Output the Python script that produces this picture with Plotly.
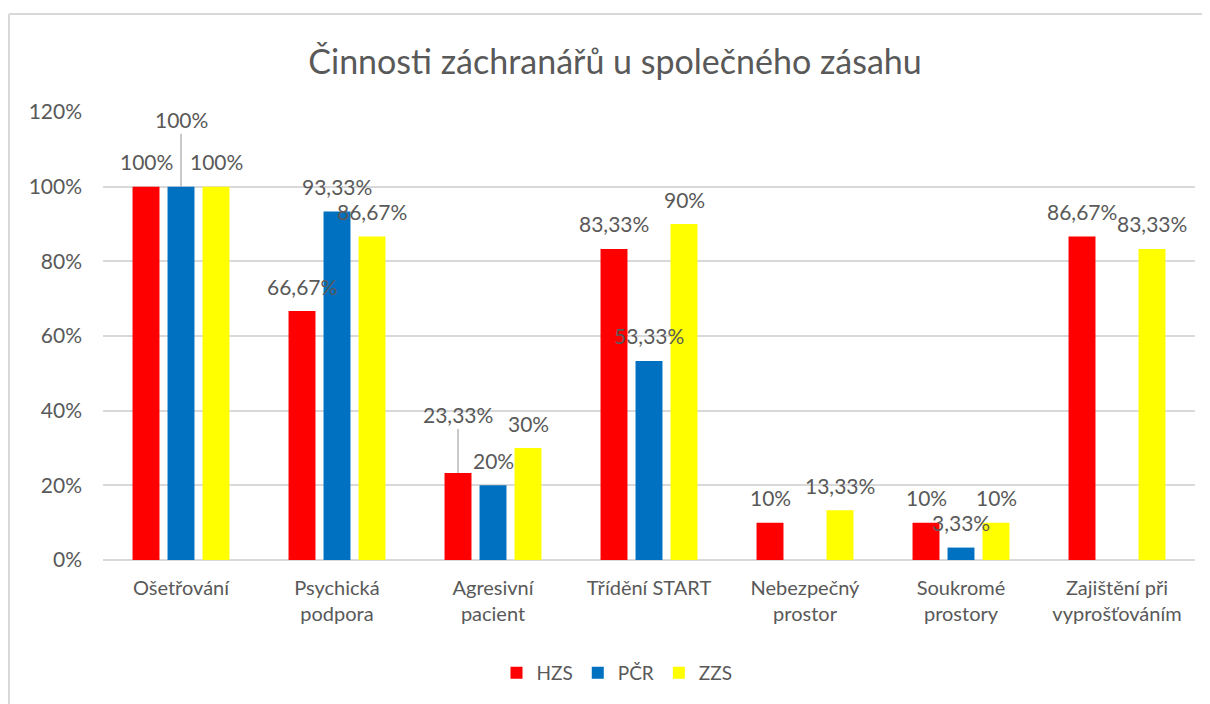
import plotly.graph_objects as go

categories = ["Ošetřování", "Psychická<br>podpora", "Agresivní<br>pacient", "Třídění START",
              "Nebezpečný<br>prostor", "Soukromé<br>prostory", "Zajištění při<br>vyprošťováním"]
series_names = ["HZS", "PČR", "ZZS"]
hzs = [100, 66.67, 23.33, 83.33, 10, 10, 86.67]
pcr = [100, 93.33, 20, 53.33, 0, 3.33, 0]
zzs = [100, 86.67, 30, 90, 13.33, 10, 83.33]
y_ticks = [0, 20, 40, 60, 80, 100, 120]
y_tick_labels = ["0%", "20%", "40%", "60%", "80%", "100%", "120%"]
title_text = "Činnosti záchranářů u společného zásahu"

colors = ["#FF0000", "#0070C0", "#FFFF00"]
series_values = [hzs, pcr, zzs]
FONT = "Lato"
TXT = "#595959"

fig = go.Figure()
for name, vals, col in zip(series_names, series_values, colors):
    fig.add_trace(go.Bar(name=name, x=categories, y=vals, marker_color=col,
                         marker_line_width=0, hoverinfo="skip"))

def fmt(v):
    return f"{v:g}".replace(".", ",") + "%"

# labels moved with leader lines: (series index, category index) -> text offset px
moved = {(1, 0): 67, (0, 2): 58}
slot = 35
annotations = []
for si, vals in enumerate(series_values):
    for ci, v in enumerate(vals):
        if v == 0:
            continue
        xs = (si - 1) * slot
        if (si, ci) in moved:
            annotations.append(dict(x=categories[ci], y=v, xref="x", yref="y", xshift=xs,
                                    text=fmt(v), showarrow=True, ax=0, ay=-moved[(si, ci)],
                                    arrowhead=0, arrowwidth=1.2, arrowcolor="#a6a6a6",
                                    font=dict(family=FONT, size=21, color=TXT)))
        else:
            annotations.append(dict(x=categories[ci], y=v, xref="x", yref="y", xshift=xs,
                                    yshift=25, text=fmt(v), showarrow=False,
                                    yanchor="middle",
                                    font=dict(family=FONT, size=21, color=TXT)))

OFF = 8  # page offset of the figure
W, H = 1210 - OFF, 704 - OFF
L, R, T, B = 103 - OFF, 15, 112 - OFF, 704 - 560
pw, ph = W - L - R, H - T - B
def px(xp):
    return (xp - OFF - L) / pw
def py(yp):
    return (H - B - (yp - OFF)) / ph

shapes = [
    dict(type="line", xref="paper", yref="paper", x0=px(9), x1=px(1215), y0=py(14), y1=py(14),
         line=dict(color="#d9d9d9", width=2)),
    dict(type="line", xref="paper", yref="paper", x0=px(9), x1=px(9), y0=py(14), y1=py(710),
         line=dict(color="#d9d9d9", width=2)),
]

fig.update_layout(
    width=W, height=H,
    margin=dict(l=L, r=R, t=T, b=B, autoexpand=False),
    paper_bgcolor="white", plot_bgcolor="white",
    barmode="group", bargap=0.327, bargroupgap=0.23,
    font=dict(family=FONT, color=TXT, size=19),
    title=dict(text=title_text, x=(615 - OFF) / W, xref="container", xanchor="center",
               y=1 - (62 - OFF) / H, yref="container", yanchor="middle",
               font=dict(family=FONT, size=34, color=TXT)),
    legend=dict(orientation="h", x=px(617), xanchor="center", y=py(673), yanchor="middle",
                font=dict(family=FONT, size=19, color=TXT), itemwidth=30),
    annotations=annotations,
    shapes=shapes,
    showlegend=True,
)
fig.update_yaxes(range=[0, 120], tickvals=y_ticks, ticktext=y_tick_labels, showgrid=True,
                 gridcolor="#d9d9d9", gridwidth=1.5, zeroline=True, zerolinecolor="#d9d9d9",
                 zerolinewidth=1.5, showline=False, ticks="", ticklabelstandoff=20,
                 tickfont=dict(family=FONT, size=21, color=TXT), fixedrange=True)
fig.update_xaxes(showgrid=False, showline=False, ticks="", ticklabelstandoff=14,
                 tickfont=dict(family=FONT, size=20, color=TXT), fixedrange=True)

fig.write_html("out.html")
